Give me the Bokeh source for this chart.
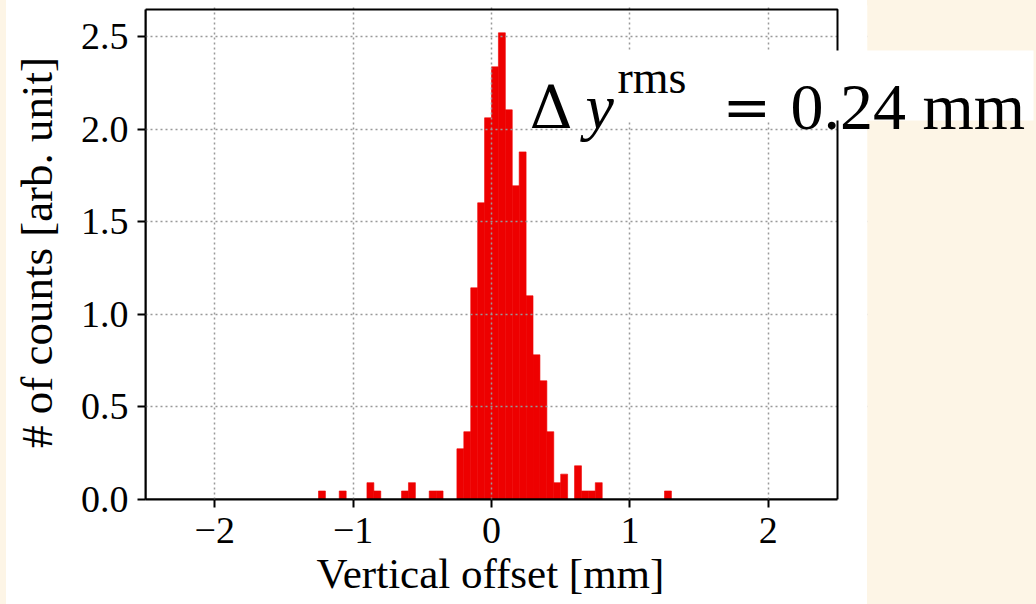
from bokeh.plotting import figure
from bokeh.models import Range1d, FixedTicker, BoxAnnotation, Label, Title, ColumnDataSource
from bokeh.embed import file_html
from bokeh.resources import INLINE

# ---- data ----
bin_width = 0.05
bin_left = [-1.25, -1.10, -0.90, -0.85, -0.65, -0.60, -0.45, -0.40,
            -0.25, -0.20, -0.15, -0.10, -0.05, 0.00, 0.05, 0.10, 0.15,
            0.20, 0.25, 0.30, 0.35, 0.40, 0.45, 0.50, 0.60, 0.65, 0.70,
            0.75, 1.25]
density = [0.046, 0.046, 0.091, 0.046, 0.046, 0.091, 0.046, 0.046,
           0.274, 0.366, 1.143, 1.602, 2.061, 2.336, 2.520, 2.104, 1.694,
           1.877, 1.100, 0.781, 0.641, 0.366, 0.091, 0.137, 0.182, 0.046,
           0.046, 0.091, 0.046]
x_ticks = [-2, -1, 0, 1, 2]
x_tick_labels = ["\u22122", "\u22121", "0", "1", "2"]
y_ticks = [0.0, 0.5, 1.0, 1.5, 2.0, 2.5]
y_tick_labels = ["0.0", "0.5", "1.0", "1.5", "2.0", "2.5"]
x_lim = (-2.5, 2.5)
y_lim = (0.0, 2.646)
x_title = "Vertical offset [mm]"
y_title = "# of counts [arb. unit]"
annot_value = "0.24"

FONT = "Liberation Serif"
CREAM = "#fdf5e6"
RED = "#ee0000"

# layout geometry (page pixels)
W, H = 1036, 604
FL, FB, FT = 145, 499, 5          # frame left / bottom / top
PX_X = 138.4                       # pixels per mm
PX_Y = 185.2                       # pixels per unit density

def dx(px):
    return x_lim[0] + (px - FL) / PX_X

def dy(py):
    return (FB - py) / PX_Y

p = figure(width=W, height=H, output_backend="svg", toolbar_location=None,
           x_range=Range1d(x_lim[0], dx(W)), y_range=Range1d(0, dy(FT)),
           min_border_left=FL, min_border_right=0, min_border_top=FT,
           min_border_bottom=H - FB)
p.border_fill_color = None
p.background_fill_color = None
p.outline_line_color = None

src = ColumnDataSource(dict(left=bin_left,
                            right=[b + bin_width for b in bin_left],
                            top=density,
                            bottom=[0.0] * len(density)))
p.quad(left="left", right="right", top="top", bottom="bottom", source=src,
       fill_color=RED, line_color=RED, line_width=0.6)

# axes
for ax in (p.xaxis[0], p.yaxis[0]):
    ax.axis_line_width = 2
    ax.axis_line_color = "black"
    ax.major_tick_line_width = 2
    ax.major_tick_line_color = "black"
    ax.major_tick_out = 8
    ax.major_tick_in = 0
    ax.minor_tick_line_color = None
    ax.major_label_text_font = FONT
    ax.major_label_text_font_size = "38px"
    ax.major_label_text_color = "black"
    ax.axis_label_text_font = FONT
    ax.axis_label_text_font_style = "normal"
    ax.axis_label_text_color = "black"

p.xaxis.bounds = x_lim
p.yaxis.bounds = y_lim
p.yaxis.axis_label_text_font_size = "45px"
p.xaxis.ticker = FixedTicker(ticks=x_ticks)
p.xaxis.major_label_overrides = dict(zip(x_ticks, x_tick_labels))
p.yaxis.ticker = FixedTicker(ticks=y_ticks)
p.yaxis.major_label_overrides = dict(zip(y_ticks, y_tick_labels))
p.yaxis.axis_label = y_title
p.xaxis.major_label_standoff = 10
p.yaxis.major_label_standoff = 9
p.yaxis.axis_label_standoff = 16

# x-axis title, aligned under the axes box (not under the whole frame)
p.add_layout(Title(text=x_title, align="left", offset=171, standoff=5,
                   text_font=FONT, text_font_size="43px",
                   text_font_style="normal", text_color="black"), "below")

# grid: dotted, drawn on top of bars
for g in (p.xgrid[0], p.ygrid[0]):
    g.grid_line_color = "#999999"
    g.grid_line_dash = "2 3"
    g.grid_line_width = 1.5
    g.level = "annotation"
p.xgrid.ticker = FixedTicker(ticks=x_ticks)
p.ygrid.ticker = FixedTicker(ticks=y_ticks)

# cover the grid lines to the right of the axes box
p.add_layout(BoxAnnotation(left=x_lim[1], right=dx(867), bottom=-5, top=10,
                           fill_color="white", fill_alpha=1.0, line_color=None,
                           level="overlay"))
p.add_layout(BoxAnnotation(left=dx(867), right=dx(W) + 5, bottom=-5, top=10,
                           fill_color=CREAM, fill_alpha=1.0, line_color=None,
                           level="overlay"))
# axes box (spines)
p.add_layout(BoxAnnotation(left=x_lim[0], right=x_lim[1], bottom=y_lim[0], top=y_lim[1],
                           fill_color=None, line_color="black", line_alpha=1.0,
                           line_width=2, level="overlay"))

# white box behind the annotation
p.add_layout(BoxAnnotation(left=dx(525), right=dx(1033), bottom=dy(120), top=dy(50),
                           fill_color="white", fill_alpha=1.0, line_color=None,
                           level="overlay"))

base = dy(106)
parts = [
    ("\u0394", 529, base, "60px", "normal", "DejaVu Serif"),
    ("y", 585, base, "64px", "italic", FONT),
    ("rms", 617, dy(77), "46px", "normal", FONT),
    ("=", 722, base, "58px", "normal", "DejaVu Serif"),
    (annot_value + " mm", 790, base, "66px", "normal", FONT),
]
for txt, px, yy, fs, style, fnt in parts:
    p.add_layout(Label(x=dx(px), y=yy, text=txt, text_font=fnt,
                       text_font_size=fs, text_font_style=style,
                       text_color="black", text_align="left",
                       text_baseline="alphabetic", level="overlay"))

html = file_html(p, INLINE)
css = ("<style>html, body { background: linear-gradient(to right, %s 0px, %s 6px, "
       "white 6px, white 867px, %s 867px, %s 100%%) !important; }</style>"
       % (CREAM, CREAM, CREAM, CREAM))
html = html.replace("</head>", css + "</head>", 1)
open("out.html", "w").write(html)
